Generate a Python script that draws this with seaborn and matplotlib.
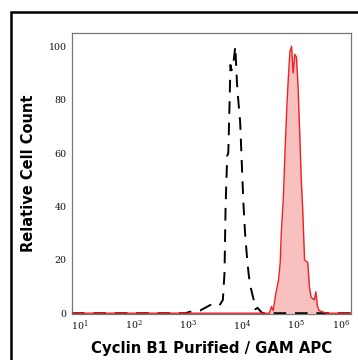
import matplotlib
matplotlib.use('Agg')
import matplotlib.pyplot as plt
import matplotlib.ticker as mticker
from matplotlib.patches import Rectangle
import numpy as np
import pandas as pd
import seaborn as sns

sns.set_style('white')

# isotype control (dashed black), log10 of intensity vs relative count
ctrl_log = [0.85, 2.95, 3.02, 3.22, 3.31, 3.40, 3.50, 3.58, 3.64, 3.67, 3.69, 3.72, 3.74, 3.76,
            3.78, 3.80, 3.83, 3.87, 3.90, 3.92, 3.96, 3.99, 4.02, 4.05, 4.09, 4.12, 4.15,
            4.21, 4.24, 4.28, 4.37, 6.0]
ctrl_cnt = [0, 0, 0.5, 1, 2, 3, 3.5, 3, 5, 15, 40, 59, 60, 76,
            93, 91, 93, 100, 86.6, 81, 71.5, 56, 41, 30, 20, 14, 10,
            5, 1.5, 2, 0, 0]

# Cyclin B1 / GAM APC (red filled)
stain_log = [0.85, 4.50, 4.54, 4.57, 4.62, 4.67, 4.70, 4.72, 4.76, 4.79, 4.82, 4.85, 4.88,
             4.91, 4.94, 4.97, 5.00, 5.03, 5.06, 5.09, 5.12, 5.15, 5.21, 5.24, 5.27,
             5.33, 5.36, 5.39, 5.42, 5.48, 5.57, 6.0]
stain_cnt = [0, 0, 2.5, 1, 7.5, 12.5, 19, 30, 44, 61, 76, 88, 98,
             100, 90, 97, 96, 85, 68, 50, 37, 20, 19, 10, 6,
             5, 8, 2.5, 1, 0.5, 0, 0]

ctrl = pd.DataFrame({'x': 10 ** np.array(ctrl_log), 'y': ctrl_cnt})
stain = pd.DataFrame({'x': 10 ** np.array(stain_log), 'y': stain_cnt})

fig = plt.figure(figsize=(3.58, 3.60), dpi=100)
ax = fig.add_axes([72 / 358, 1 - 314 / 360, 278.5 / 358, 281 / 360])

ax.fill_between(stain['x'], stain['y'], color='#f9c0c0', lw=0, zorder=1)
sns.lineplot(data=ctrl, x='x', y='y', ax=ax, color='black', lw=1.4, zorder=2)
ax.lines[-1].set_dashes((6.5, 4.5))
sns.lineplot(data=stain, x='x', y='y', ax=ax, color='#ee2020', lw=1.0, zorder=3)

ax.set_xscale('log')
ax.set_xlim(10 ** 0.85, 1e6)
ax.set_ylim(-0.3, 105)
ax.set_xticks([1e1, 1e2, 1e3, 1e4, 1e5, 1e6])
ax.xaxis.set_minor_locator(mticker.LogLocator(base=10, subs=np.arange(2, 10), numticks=20))
ax.xaxis.set_minor_formatter(mticker.NullFormatter())
ax.set_yticks([0, 20, 40, 60, 80, 100])
ax.yaxis.set_minor_locator(mticker.MultipleLocator(10))

ax.tick_params(axis='x', which='major', direction='in', length=4, width=0.8, colors='#333333',
               labelsize=6.8, pad=3)
ax.tick_params(axis='x', which='minor', direction='in', length=2, width=0.6, colors='#333333')
ax.tick_params(axis='y', which='major', direction='out', length=3, width=0.8, colors='#333333',
               labelsize=6.8, pad=1)
ax.tick_params(axis='y', which='minor', direction='out', length=1.5, width=0.6, colors='#555555')
for lab in ax.get_xticklabels() + ax.get_yticklabels():
    lab.set_family('DejaVu Serif')
    lab.set_color('#111111')
ax.get_xticklabels()[-1].set_horizontalalignment('right')
for sp in ax.spines.values():
    sp.set_color('#777777')
    sp.set_linewidth(0.9)

ax.set_xlabel('Cyclin B1 Purified / GAM APC', fontsize=10.7, fontweight='bold', labelpad=6,
              color='black', family='DejaVu Sans')
ax.set_ylabel('Relative Cell Count', fontsize=10.5, fontweight='bold', labelpad=9,
              color='black', family='DejaVu Sans')

fig.patches.append(Rectangle((10.5 / 358, -0.1), 1.2, 1 - 11.5 / 360 + 0.1, transform=fig.transFigure,
                             fill=False, edgecolor='black', lw=1.8, figure=fig))

fig.savefig('out.png', dpi=100)
